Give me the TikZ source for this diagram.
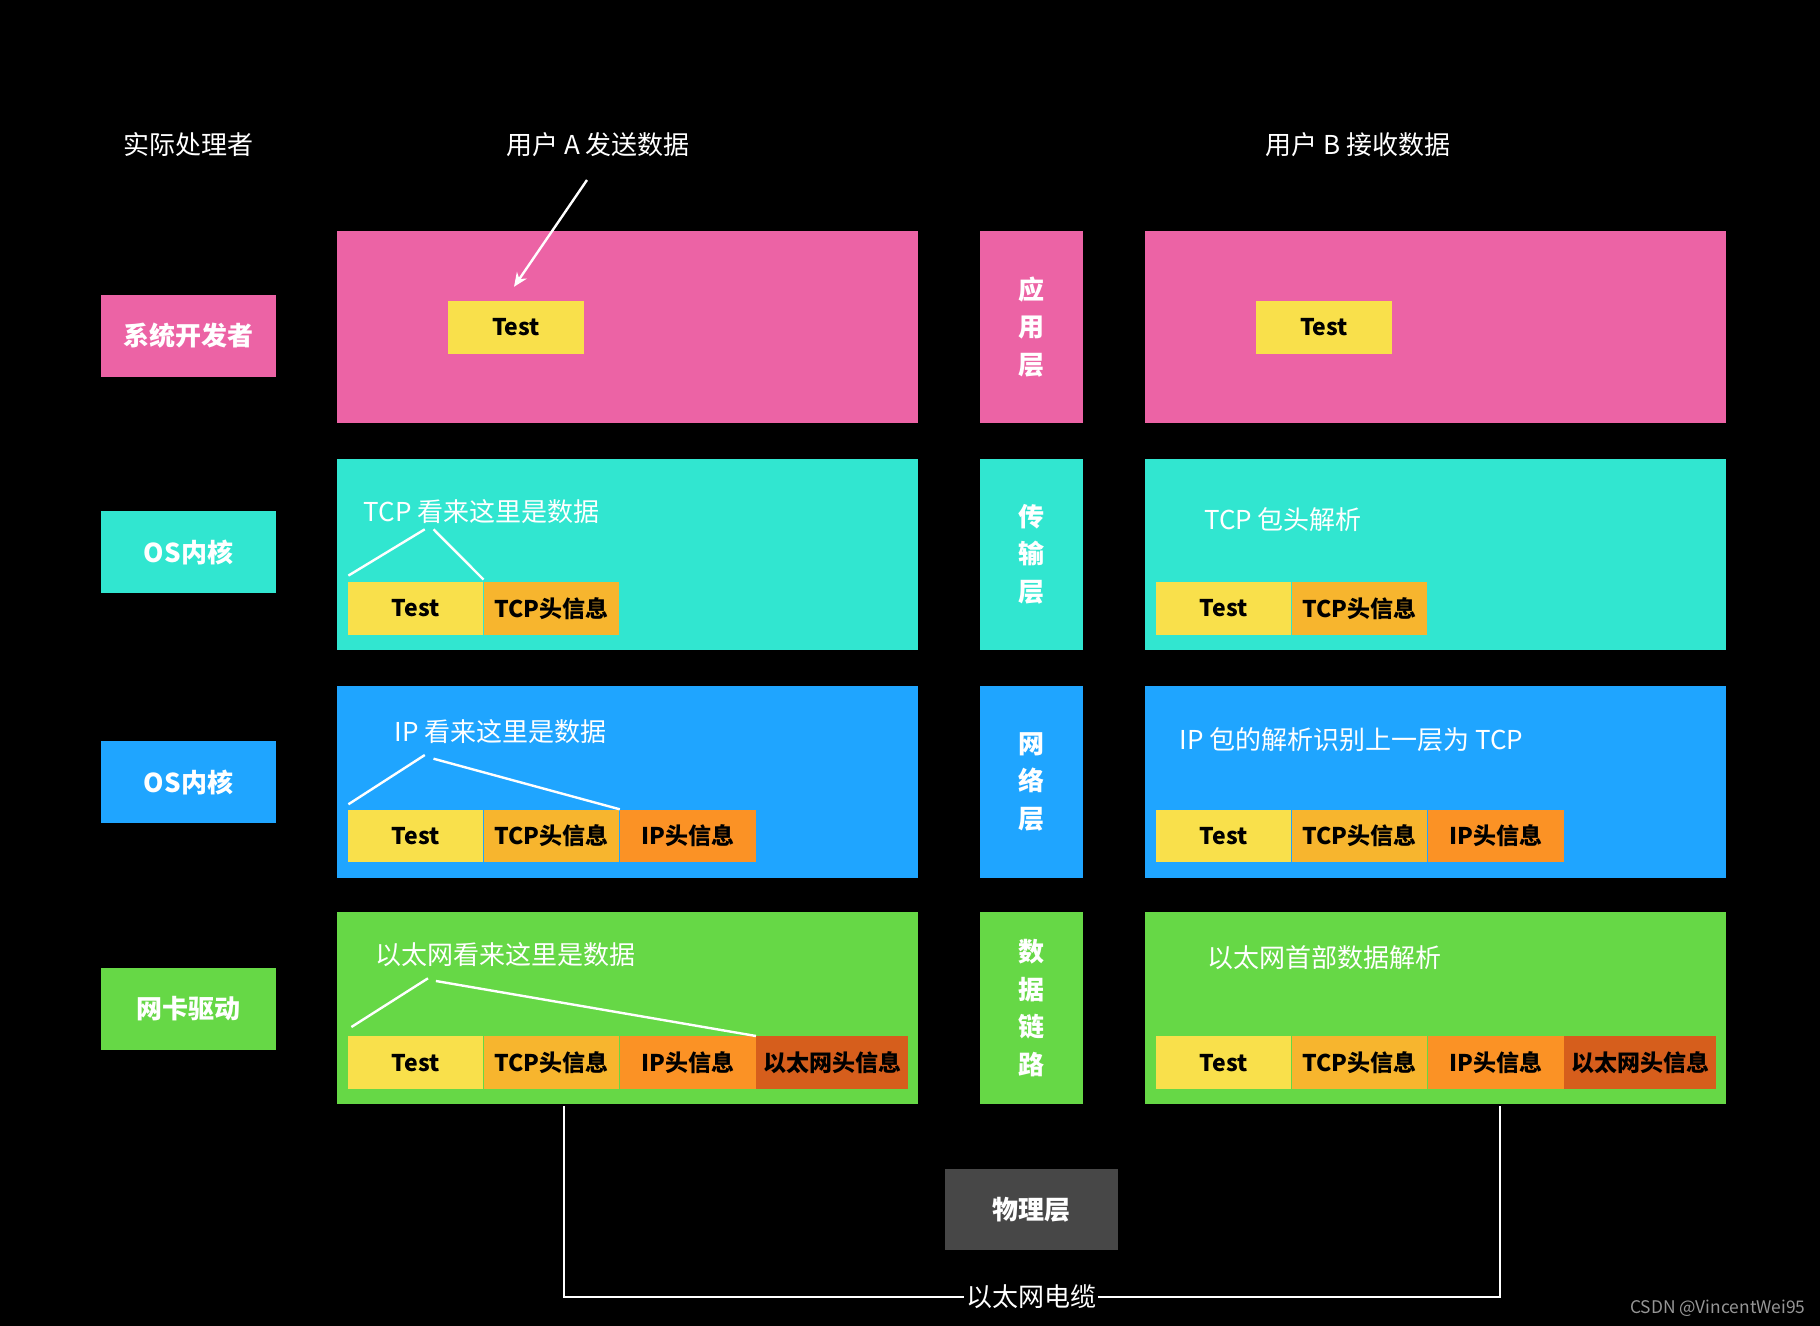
\documentclass[tikz,border=0pt]{standalone}
\usepackage{fontspec}
\setmainfont{Noto Sans CJK SC}
\usepackage{tikz}
\usetikzlibrary{positioning, arrows.meta}

\definecolor{appPink}{RGB}{236,99,165}
\definecolor{tcpCyan}{RGB}{49,230,208}
\definecolor{ipBlue}{RGB}{31,165,255}
\definecolor{ethGreen}{RGB}{102,216,70}
\definecolor{dataYellow}{RGB}{249,224,75}
\definecolor{tcpHead}{RGB}{247,181,46}
\definecolor{ipHead}{RGB}{251,146,37}
\definecolor{ethHead}{RGB}{214,94,28}
\definecolor{phyGray}{RGB}{71,71,71}
\definecolor{markGray}{RGB}{150,150,150}

\tikzset{
  hdr/.style={text=white, inner sep=0pt, font=\fontsize{13}{16}\selectfont},
  layerbox/.style={fill=#1, minimum width=290.7pt, minimum height=95.75pt, inner sep=0pt},
  colbox/.style={fill=#1, minimum width=51.7pt, minimum height=95.75pt, inner sep=0pt,
    text=white, align=center, font=\fontsize{13}{18.75}\selectfont\bfseries},
  rolebox/.style={fill=#1, minimum width=87.5pt, minimum height=41pt, inner sep=0pt,
    text=white, font=\fontsize{13}{16}\selectfont\bfseries},
  pdu/.style={fill=#1, minimum width=67.7pt, minimum height=26.3pt, inner sep=0pt,
    text=black, font=\fontsize{11.5}{14}\selectfont\bfseries},
  note/.style={text=white, anchor=west, inner sep=0pt, font=\fontsize{13}{16}\selectfont},
  brace/.style={white, line width=1.2pt},
  cableline/.style={white, line width=1pt},
}

\begin{document}
\begin{tikzpicture}[x=0.5pt, y=-0.5pt]
    % --- 1. 背景 ---
    \path[use as bounding box, fill=black] (0,0) rectangle (1820,1326);
    \def\xA{627.3}
    \def\xM{1031.3}
    \def\xB{1435.3}

    % --- 2. 表头 ---
    \node[hdr] (hdrRole) at (188.3,145) {实际处理者};
    \node[hdr] (hdrA) at (598,145) {用户 A 发送数据};
    \node[hdr] (hdrB) at (1358,145) {用户 B 接收数据};

    % --- 3. 实际处理者 ---
    \node[rolebox=appPink] (roleApp) at (188.5,336) {系统开发者};
    \node[rolebox=tcpCyan] (roleTcp) at (188.5,552) {OS内核};
    \node[rolebox=ipBlue] (roleIp) at (188.5,782) {OS内核};
    \node[rolebox=ethGreen] (roleEth) at (188.5,1009) {网卡驱动};

    % --- 4. 各层 (A 端, 层名, B 端) ---
    \node[layerbox=appPink] (appA) at (\xA,326.8) {};
    \node[layerbox=tcpCyan] (tcpA) at (\xA,554.3) {};
    \node[layerbox=ipBlue] (ipA) at (\xA,781.8) {};
    \node[layerbox=ethGreen] (ethA) at (\xA,1008) {};

    \node[colbox=appPink] (appM) at (\xM,326.8) {应\\用\\层};
    \node[colbox=tcpCyan] (tcpM) at (\xM,554.3) {传\\输\\层};
    \node[colbox=ipBlue] (ipM) at (\xM,781.8) {网\\络\\层};
    \node[colbox=ethGreen] (ethM) at (\xM,1008) {数\\据\\链\\路};

    \node[layerbox=appPink] (appB) at (\xB,326.8) {};
    \node[layerbox=tcpCyan] (tcpB) at (\xB,554.3) {};
    \node[layerbox=ipBlue] (ipB) at (\xB,781.8) {};
    \node[layerbox=ethGreen] (ethB) at (\xB,1008) {};

    % --- 5. 应用层数据 ---
    \node[pdu=dataYellow] (appDataA) at (516,327.5) {Test};
    \node[pdu=dataYellow] (appDataB) at (1324,327.5) {Test};
    \coordinate (sendFrom) at (587,180);
    \draw[white, line width=1.2pt, -{Stealth[length=7pt, width=6pt]}]
        (sendFrom) -- ([shift={(-2,-14)}]appDataA.north);

    % --- 6. 传输层 ---
    \node[note] (tcpNoteA) at (363.5,511.7) {TCP 看来这里是数据};
    \node[pdu=dataYellow] (tcpDataA) at (415.5,608.3) {Test};
    \node[pdu=tcpHead, right=0pt of tcpDataA] (tcpHdrA) {TCP头信息};
    \coordinate (tcpTipL) at (424.8,529.3);
    \coordinate (tcpTipR) at (433.5,529.3);
    \draw[brace] ([shift={(1,-6)}]tcpDataA.north west) -- (tcpTipL);
    \draw[brace] (tcpTipR) -- ([shift={(0,-2)}]tcpHdrA.north west);

    \node[note] (tcpNoteB) at (1203.7,520) {TCP 包头解析};
    \node[pdu=dataYellow] (tcpDataB) at (1223.5,608.3) {Test};
    \node[pdu=tcpHead, right=0pt of tcpDataB] (tcpHdrB) {TCP头信息};

    % --- 7. 网络层 ---
    \node[note] (ipNoteA) at (394.3,731.7) {IP 看来这里是数据};
    \node[pdu=dataYellow] (ipDataA) at (415.5,836) {Test};
    \node[pdu=tcpHead, right=0pt of ipDataA] (ipTcpA) {TCP头信息};
    \node[pdu=ipHead, right=0pt of ipTcpA] (ipHdrA) {IP头信息};
    \coordinate (ipTipL) at (424.8,755);
    \coordinate (ipTipR) at (433.5,758.7);
    \draw[brace] ([shift={(1,-5)}]ipDataA.north west) -- (ipTipL);
    \draw[brace] (ipTipR) -- (ipHdrA.north west);

    \node[note] (ipNoteB) at (1179.3,739.4) {IP 包的解析识别上一层为 TCP};
    \node[pdu=dataYellow] (ipDataB) at (1223.5,836) {Test};
    \node[pdu=tcpHead, right=0pt of ipDataB] (ipTcpB) {TCP头信息};
    \node[pdu=ipHead, right=0pt of ipTcpB] (ipHdrB) {IP头信息};

    % --- 8. 数据链路层 ---
    \node[note] (ethNoteA) at (374.6,955) {以太网看来这里是数据};
    \node[pdu=dataYellow] (ethDataA) at (415.5,1062.7) {Test};
    \node[pdu=tcpHead, right=0pt of ethDataA] (ethTcpA) {TCP头信息};
    \node[pdu=ipHead, right=0pt of ethTcpA] (ethIpA) {IP头信息};
    \node[pdu=ethHead, minimum width=76pt, right=0pt of ethIpA] (ethHdrA) {以太网头信息};
    \coordinate (ethTipL) at (428,978.3);
    \coordinate (ethTipR) at (435.9,981);
    \draw[brace] ([shift={(4,-9)}]ethDataA.north west) -- (ethTipL);
    \draw[brace] (ethTipR) -- (ethHdrA.north west);

    \node[note] (ethNoteB) at (1207,958) {以太网首部数据解析};
    \node[pdu=dataYellow] (ethDataB) at (1223.5,1062.7) {Test};
    \node[pdu=tcpHead, right=0pt of ethDataB] (ethTcpB) {TCP头信息};
    \node[pdu=ipHead, right=0pt of ethTcpB] (ethIpB) {IP头信息};
    \node[pdu=ethHead, minimum width=76pt, right=0pt of ethIpB] (ethHdrB) {以太网头信息};

    % --- 9. 物理层与电缆 ---
    \node[fill=phyGray, minimum width=86.5pt, minimum height=40.5pt, inner sep=0pt,
          text=white, font=\fontsize{13}{16}\selectfont\bfseries] (phy) at (1031.5,1209.5) {物理层};
    \node[hdr, inner sep=1pt] (cable) at (1031,1296.7) {以太网电缆};
    \coordinate (cableA) at (564,1106);
    \coordinate (cableB) at (1499.7,1106);
    \draw[cableline] (cableA) |- (cable.west);
    \draw[cableline] (cableB) |- (cable.east);

    \node[text=markGray, anchor=east, inner sep=0pt, font=\fontsize{8.7}{10}\selectfont] (mark) at (1806,1308) {CSDN @VincentWei95};
\end{tikzpicture}
\end{document}
